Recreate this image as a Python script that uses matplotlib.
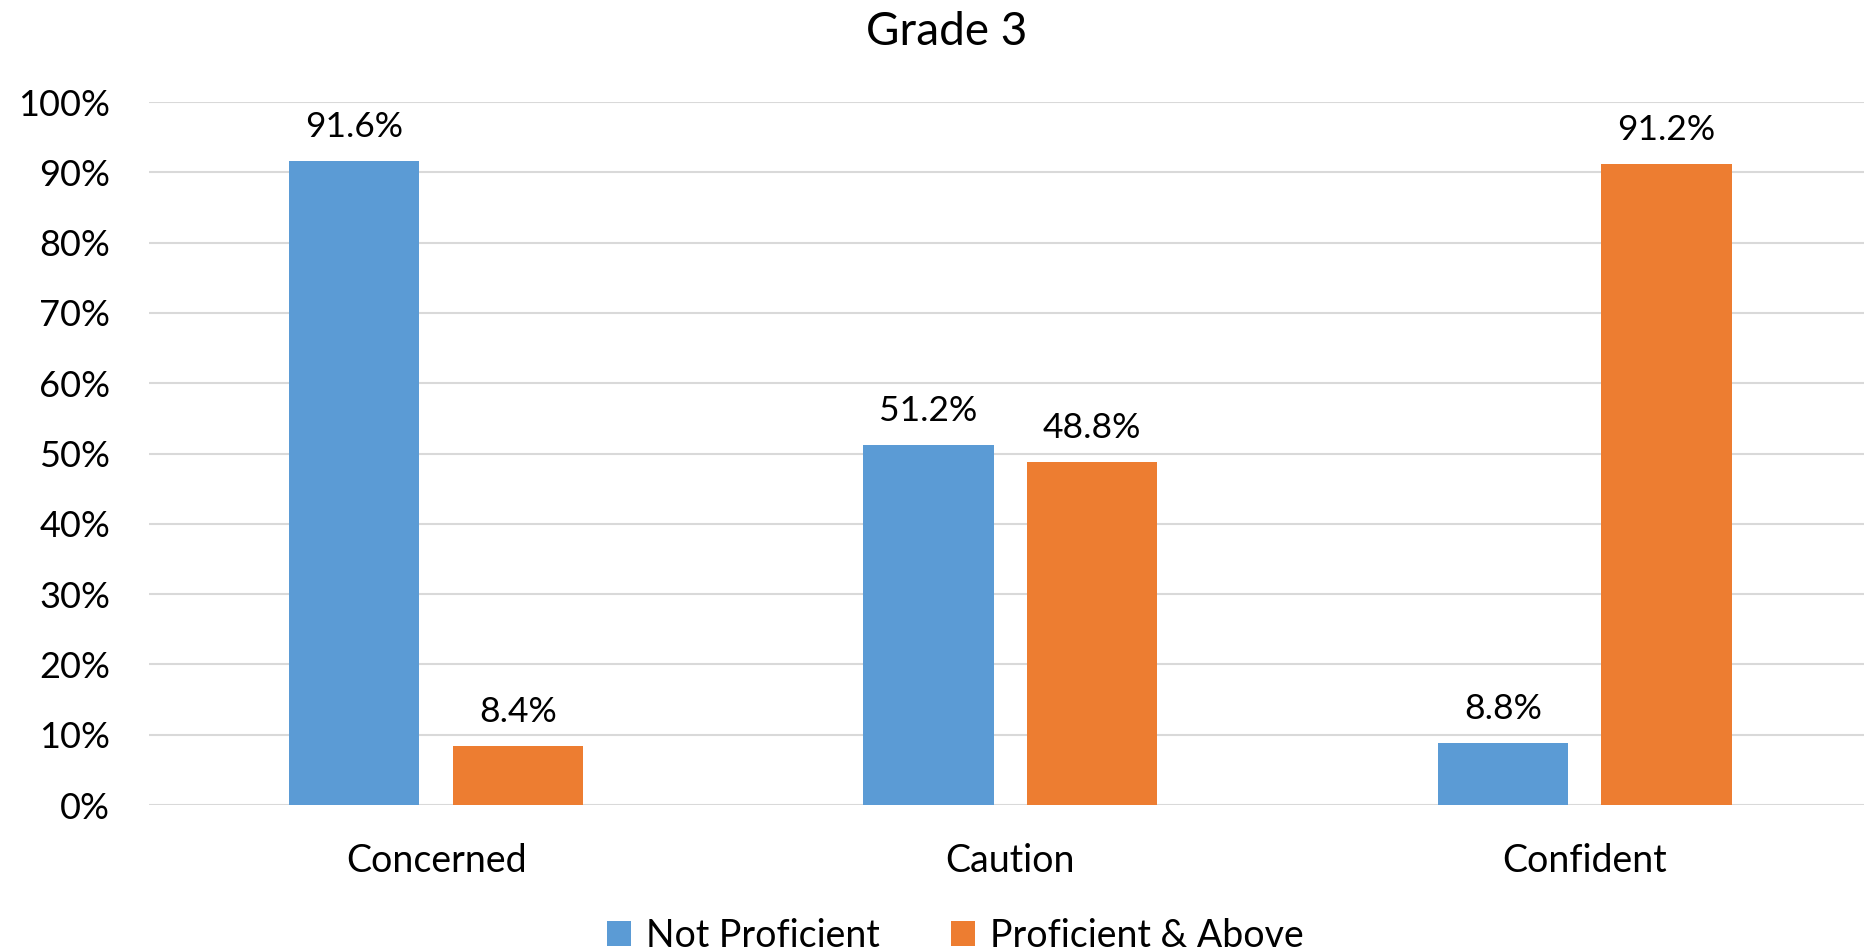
import numpy as np
import matplotlib.pyplot as plt

plt.rcParams['font.family'] = ['Lato', 'DejaVu Sans']

categories = ["Concerned", "Caution", "Confident"]
series = ["Not Proficient", "Proficient & Above"]
not_proficient = [91.6, 51.2, 8.8]
proficient_above = [8.4, 48.8, 91.2]
yticks = [0, 10, 20, 30, 40, 50, 60, 70, 80, 90, 100]

colors = ["#5b9bd5", "#ed7d31"]

fig = plt.figure(figsize=(18.64, 9.51), dpi=100)
ax = fig.add_axes([0.0799, 0.1535, 0.9243, 0.7392])

x = np.arange(len(categories))
width = 0.227
offset = 0.1425

for vals, off, col, name in [(not_proficient, -offset, colors[0], series[0]),
                             (proficient_above, offset, colors[1], series[1])]:
    bars = ax.bar(x + off, vals, width, color=col, label=name, zorder=3)
    for b, v in zip(bars, vals):
        ax.annotate(f"{v:.1f}%", (b.get_x() + b.get_width() / 2, v),
                    xytext=(0, 13), textcoords="offset points",
                    ha="center", va="bottom", fontsize=25.5)

ax.set_xlim(-0.5, len(categories) - 0.5)
ax.set_ylim(0, 100)
ax.set_yticks(yticks)
ax.set_yticklabels([f"{t}%" for t in yticks], fontsize=26)
ax.set_xticks(x)
ax.set_xticklabels(categories, fontsize=27)
ax.tick_params(length=0)
ax.tick_params(axis="y", pad=28)
ax.tick_params(axis="x", pad=27)
ax.yaxis.grid(True, color="#d9d9d9", linewidth=1.5, zorder=0)
for s in ax.spines.values():
    s.set_visible(False)

fig.text(0.508, 0.966, "Grade 3", ha="center", va="center", fontsize=33)
fig.legend(loc="center", bbox_to_anchor=(0.5125, 0.016), ncol=2,
           frameon=False, fontsize=27, handlelength=0.65, handleheight=0.65,
           handletextpad=0.4, columnspacing=1.9)

fig.savefig("out.png", dpi=100)
